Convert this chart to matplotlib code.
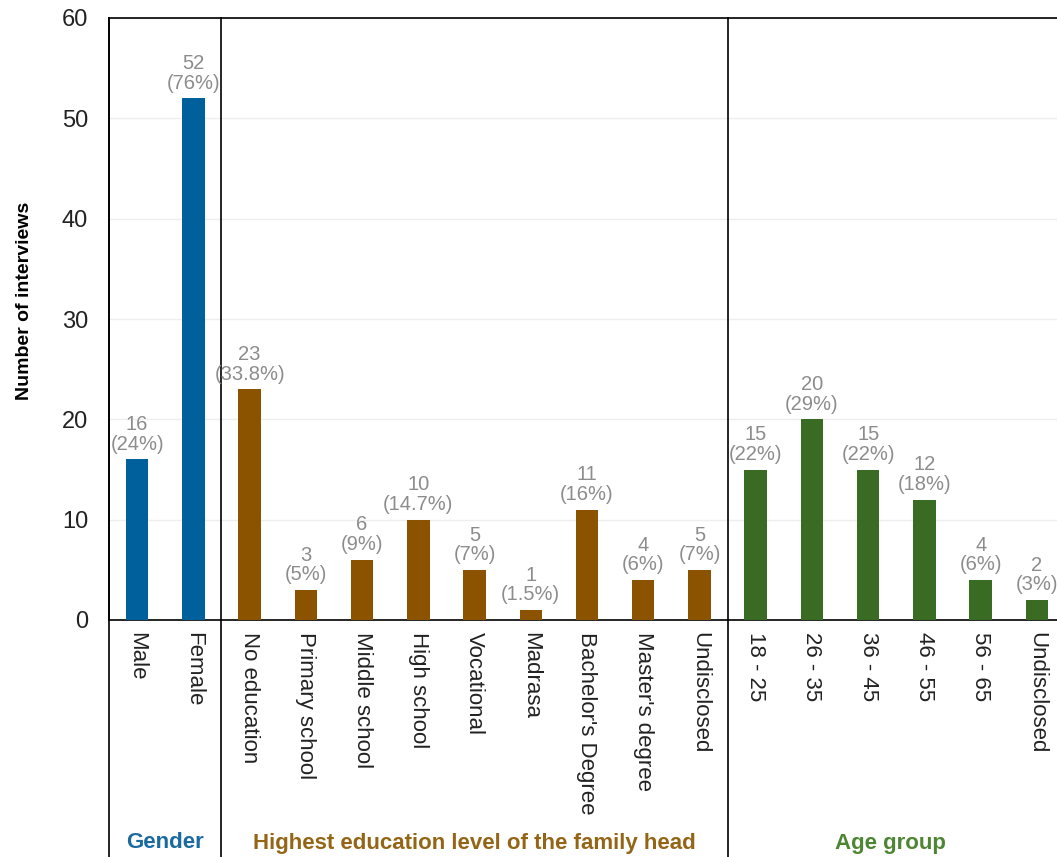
import matplotlib.pyplot as plt
import numpy as np

# données
categories = ['Male', 'Female',
              'No education', 'Primary school', 'Middle school', 'High school',
              'Vocational', 'Madrasa', "Bachelor's Degree", "Master's degree", 'Undisclosed',
              '18 - 25', '26 - 35', '36 - 45', '46 - 55', '56 - 65', 'Undisclosed']
valeurs = [16, 52,
           23, 3, 6, 10, 5, 1, 11, 4, 5,
           15, 20, 15, 12, 4, 2]
pourcents = ['24%', '76%',
             '33.8%', '5%', '9%', '14.7%', '7%', '1.5%', '16%', '6%', '7%',
             '22%', '29%', '22%', '18%', '6%', '3%']
groupes = ['Gender', 'Highest education level of the family head', 'Age group']
taille_groupes = [2, 9, 6]
couleurs_barres = ['#00609c', '#8b5200', '#3a6b22']
couleurs_titres = ['#1a6aa0', '#956516', '#4d8632']

plt.rcParams['font.family'] = ['Liberation Sans', 'DejaVu Sans']

fig = plt.figure(figsize=(10.57, 8.57), dpi=100)
ax = fig.add_axes([109/1057, 237/857, 956/1057, 602/857])

x = np.arange(len(categories))
couleurs = []
for c, n in zip(couleurs_barres, taille_groupes):
    couleurs += [c]*n

ax.bar(x, valeurs, width=0.4, color=couleurs, zorder=3)

# étiquettes des valeurs (nombre + pourcentage)
for xi, v, p in zip(x, valeurs, pourcents):
    ax.annotate('%d\n(%s)' % (v, p), (xi, v), xytext=(0, 4), textcoords='offset points',
                ha='center', va='bottom', fontsize=14.5, color='#8c8c8c', linespacing=1.05)

ax.set_xlim(-0.5, len(categories) - 0.5)
ax.set_ylim(0, 60)
ax.set_yticks(range(0, 61, 10))
ax.tick_params(axis='y', length=0, labelsize=17, pad=15, labelcolor='#222222')
ax.set_xticks(x)
ax.set_xticklabels(categories, rotation=-90, fontsize=16, color='#222222')
ax.tick_params(axis='x', length=0, pad=9)
for lab in ax.get_xticklabels():
    lab.set_va('top')

ax.grid(axis='y', color='#eeeeee', linewidth=1, zorder=0)
ax.spines['right'].set_visible(False)
for s in ['left', 'top', 'bottom']:
    ax.spines[s].set_linewidth(1.2)

ax.set_ylabel('Number of interviews', fontsize=14, fontweight='bold')
ax.yaxis.set_label_coords(-0.08, 0.53)

# séparateurs verticaux jusqu'en bas de la figure
bas = -237/602
ax.axvline(-0.5, ymin=bas, ymax=1, color='black', lw=1.2, clip_on=False)
debut = -0.5
for i, (g, n, c) in enumerate(zip(groupes, taille_groupes, couleurs_titres)):
    fin = debut + n
    if i < len(groupes) - 1:
        ax.axvline(fin, ymin=bas, ymax=1, color='black', lw=1.2, clip_on=False)
    centre = (debut + fin)/2
    if i == len(groupes) - 1:
        centre -= 0.1
    ax.text(centre, bas + 14/602, g, transform=ax.get_xaxis_transform(),
            ha='center', va='center', fontsize=16, fontweight='bold', color=c)
    debut = fin

fig.savefig('out.png', dpi=100)
